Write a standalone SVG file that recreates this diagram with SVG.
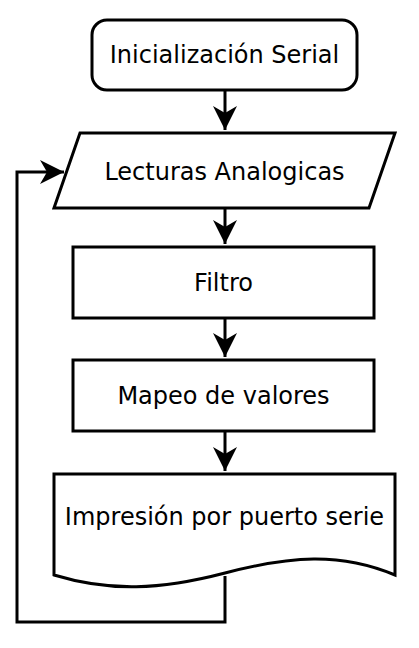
<svg xmlns="http://www.w3.org/2000/svg" width="419" height="648" viewBox="0 0 419 648">
<defs>
<style>
.s{fill:#fff;stroke:#000;stroke-width:3;stroke-linejoin:miter}
.c{fill:none;stroke:#000;stroke-width:3}
.t{font-family:"DejaVu Sans",sans-serif;font-size:24px;text-anchor:middle;fill:#000}
</style>
<marker id="ah" markerUnits="userSpaceOnUse" viewBox="-25 -13 27 26" refX="0" refY="0" markerWidth="27" markerHeight="26" orient="auto">
<path d="M0,0 L-24,-12 L-17,0 L-24,12 Z" fill="#000"/>
</marker>
</defs>
<g id="connectors">
<path class="c" d="M225,90 V130" marker-end="url(#ah)"/>
<path class="c" d="M225,208 V244" marker-end="url(#ah)"/>
<path class="c" d="M225,318 V357" marker-end="url(#ah)"/>
<path class="c" d="M225,431 V471" marker-end="url(#ah)"/>
<path class="c" d="M225,576 V622 H17 V172 H64" marker-end="url(#ah)"/>
</g>
<g id="n1">
<rect class="s" x="92" y="20" width="265" height="70" rx="15"/>
<text class="t" x="224.5" y="63">Inicialización Serial</text>
</g>
<g id="n2">
<path class="s" d="M80,133 H395 L369,208 H54 Z"/>
<text class="t" x="224.5" y="180">Lecturas Analogicas</text>
</g>
<g id="n3">
<rect class="s" x="73" y="247" width="301" height="71"/>
<text class="t" x="223.5" y="291">Filtro</text>
</g>
<g id="n4">
<rect class="s" x="73" y="360" width="301" height="71"/>
<text class="t" x="223.5" y="404">Mapeo de valores</text>
</g>
<g id="n5">
<path class="s" d="M54,474 H395 V575 C340,552 290,556 225,573 C160,590 110,592 54,575 Z"/>
<text class="t" x="224.5" y="525">Impresión por puerto serie</text>
</g>
</svg>
